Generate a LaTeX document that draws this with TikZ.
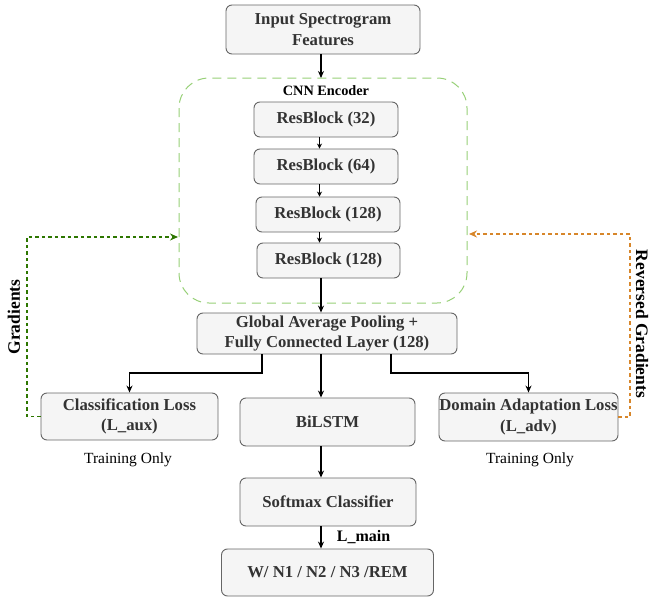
\documentclass[tikz,border=0pt]{standalone}
\usepackage{fontspec}
\setmainfont{Liberation Serif}
\usetikzlibrary{arrows.meta,calc}
\definecolor{boxfill}{HTML}{F5F5F5}
\definecolor{boxline}{HTML}{666666}
\definecolor{boxtext}{HTML}{333333}
\definecolor{encgreen}{HTML}{97D077}
\definecolor{gradgreen}{HTML}{2D7600}
\definecolor{gradorange}{HTML}{D7862A}
\tikzset{
  blk/.style={draw=boxline, fill=boxfill, rounded corners=6pt, line width=0.9pt,
    text=boxtext, font=\fontsize{16.7}{20.3}\selectfont\bfseries, align=center, inner sep=0pt},
  conn/.style={line width=1.1pt, -{Stealth[length=7pt,width=6pt]}},
  gradline/.style={line width=1.2pt, dash pattern=on 3.5pt off 3pt, -{Stealth[length=8pt,width=7pt]}},
  lbl/.style={font=\fontsize{16}{20}\selectfont\bfseries},
  sidelbl/.style={font=\fontsize{17.5}{21}\selectfont\bfseries},
}
\begin{document}
\begin{tikzpicture}[x=1pt,y=-1pt]
\useasboundingbox (0,0) rectangle (649,597);
% encoder container
\draw[encgreen, line width=1pt, dash pattern=on 9pt off 6pt, rounded corners=30pt] (179,78) rectangle (467,303);
\node[font=\fontsize{14.3}{17}\selectfont\bfseries] (cnn) at (326,91) {CNN Encoder};
\coordinate (enc) at (321,78);

\node[blk, minimum width=194pt, minimum height=49pt] (in) at (323,29.5) {Input Spectrogram\\Features};
\node[blk, minimum width=144pt, minimum height=35pt] (r1) at (326,119.5) {ResBlock (32)};
\node[blk, minimum width=144pt, minimum height=35pt] (r2) at (326,166.5) {ResBlock (64)};
\node[blk, minimum width=144pt, minimum height=35pt] (r3) at (328,214.5) {ResBlock (128)};
\node[blk, minimum width=143pt, minimum height=35pt] (r4) at (328.5,260.5) {ResBlock (128)};
\node[blk, minimum width=260pt, minimum height=41pt] (gap) at (327,333.5) {Global Average Pooling +\\Fully Connected Layer (128)};
\node[blk, minimum width=177pt, minimum height=47pt] (cls) at (129.5,416.5) {Classification Loss\\(L\_aux)};
\node[blk, minimum width=175pt, minimum height=48pt] (bil) at (327.5,422) {BiLSTM};
\node[blk, minimum width=179pt, minimum height=48pt] (dom) at (528.5,417) {Domain Adaptation Loss\\(L\_adv)};
\node[blk, minimum width=176pt, minimum height=48pt] (soft) at (328,502) {Softmax Classifier};
\node[blk, minimum width=212pt, minimum height=47pt] (out) at (327.5,572.5) {W/ N1 / N2 / N3 /REM};

\node[font=\fontsize{15.5}{18}\selectfont] (tl) at (128,460) {Training Only};
\node[font=\fontsize{15.5}{18}\selectfont] (tr) at (530,460) {Training Only};

\coordinate (cx) at (321,0);
\coordinate (ax) at (319.5,0);
\draw[conn] (in.south -| cx) -- (enc);
\draw[line width=0.9pt, -{Stealth[length=5pt,width=5pt]}] (r1.south -| ax) -- (r2.north -| ax);
\draw[line width=0.9pt, -{Stealth[length=5pt,width=5pt]}] (r2.south -| ax) -- (r3.north -| ax);
\draw[line width=0.9pt, -{Stealth[length=5pt,width=5pt]}] (r3.south -| ax) -- (r4.north -| ax);
\draw[conn] (r4.south -| cx) -- (gap.north -| cx);
\draw[conn] (gap.south -| cx) -- (bil.north -| cx);
\draw[conn] (bil.south -| cx) -- (soft.north -| cx);
\draw[conn] (soft.south -| cx) -- node[right=12pt, lbl, black] (lm) {L\_main} (out.north -| cx);
\coordinate (bl) at (262,373);
\coordinate (br) at (391,373);
\draw[conn] (gap.south -| bl) -- (bl) -| (cls.north);
\draw[conn] (gap.south -| br) -- (br) -| (dom.north);

% gradients
\coordinate (gl1) at (27,237);
\coordinate (gl2) at (178,237);
\draw[gradline, gradgreen] (cls.west) -| (gl1) -- (gl2);
\coordinate (gr1) at (630,234);
\coordinate (gr2) at (469,234);
\draw[gradline, gradorange] (dom.east) -| (gr1) -- (gr2);
\node[sidelbl, rotate=90] (gt) at (14,317) {Gradients};
\node[sidelbl, rotate=-90] (rt) at (642,324) {Reversed Gradients};
\end{tikzpicture}
\end{document}
